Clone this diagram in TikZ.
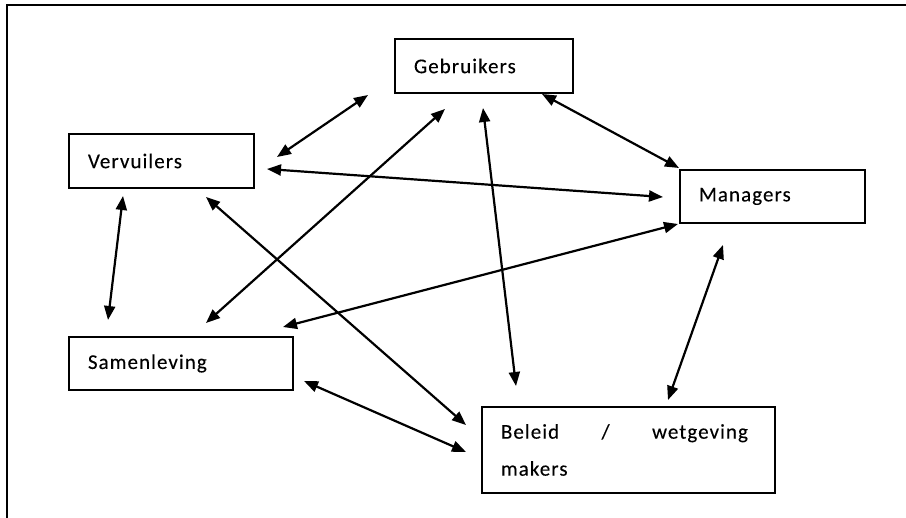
\documentclass[tikz,border=0pt]{standalone}
\usepackage{fontspec}
\usetikzlibrary{arrows.meta}
\newfontfamily\lblfont[LetterSpace=5,FakeBold=0.15]{Carlito}
\newcommand\lbl{\lblfont\fontsize{21}{37}\selectfont}
\tikzset{
  box/.style={draw, line width=1.9pt, inner xsep=19pt, inner ysep=0pt,
    align=left, anchor=north west, font=\lbl},
  link/.style={line width=2.2pt, {Triangle[length=14pt,width=11pt]}-{Triangle[length=14pt,width=11pt]}},
  frame/.style={line width=2.2pt}
}
\begin{document}
\begin{tikzpicture}[x=1pt,y=-1pt]
\useasboundingbox (0,0) rectangle (906,518);
\fill[white] (0,0) rectangle (906,518);
% open frame: top and left edges only
\draw[frame] (7,530) -- (7,5) -- (920,5);

% actors
\node[box, text width=140pt, minimum height=54pt] (geb) at (394,38) {Gebruikers};
\node[box, text width=147pt, minimum height=54pt] (ver) at (68,133) {Vervuilers};
\node[box, text width=147pt, minimum height=53pt] (man) at (679,169) {Managers};
\node[box, text width=186pt, minimum height=53pt] (sam) at (68,336) {Samenleving};
\node[box, text width=255pt, minimum height=86pt] (bel) at (481,406)
  {\makebox[247pt][s]{Beleid\hfill/\hfill wetgeving}\\makers};

% arrow end points
\coordinate (gv1) at (368,95);  \coordinate (gv2) at (277,157);
\coordinate (vm1) at (267,169); \coordinate (vm2) at (663,197);
\coordinate (gm1) at (542,94);  \coordinate (gm2) at (679,168);
\coordinate (gb1) at (483,108); \coordinate (gb2) at (516,386);
\coordinate (gs1) at (445,109); \coordinate (gs2) at (206,323);
\coordinate (vs1) at (123,196); \coordinate (vs2) at (108,320);
\coordinate (vb1) at (206,197); \coordinate (vb2) at (466,425);
\coordinate (ms1) at (678,224); \coordinate (ms2) at (283,327);
\coordinate (sb1) at (304,381); \coordinate (sb2) at (466,452);
\coordinate (mb1) at (723,245); \coordinate (mb2) at (668,400);

% two-way relations
\draw[link] (gv1) -- (gv2);
\draw[link] (vm1) -- (vm2);
\draw[link] (gm1) -- (gm2);
\draw[link] (gb1) -- (gb2);
\draw[link] (gs1) -- (gs2);
\draw[link] (vs1) -- (vs2);
\draw[link] (vb1) -- (vb2);
\draw[link] (ms1) -- (ms2);
\draw[link] (sb1) -- (sb2);
\draw[link] (mb1) -- (mb2);
\end{tikzpicture}
\end{document}
